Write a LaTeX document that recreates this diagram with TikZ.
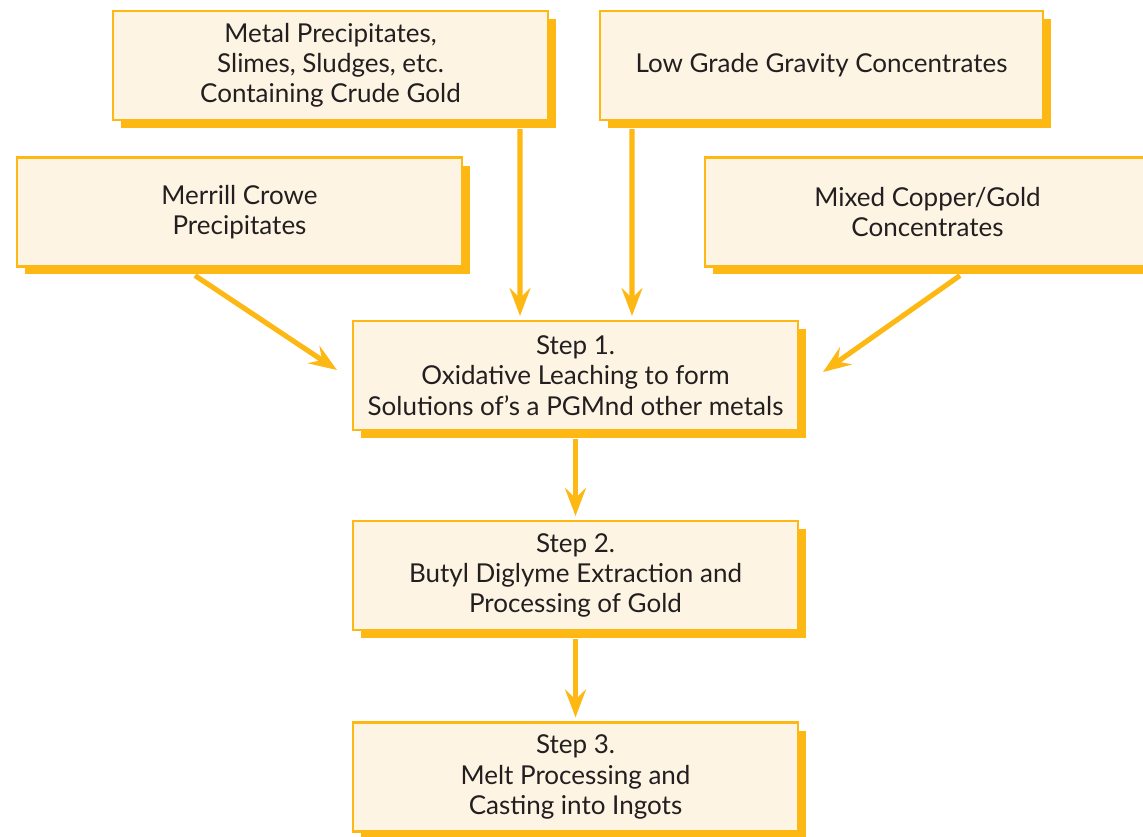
\documentclass[tikz,border=0pt]{standalone}
\usepackage{fontspec}
\setmainfont{Lato}
\usetikzlibrary{arrows.meta,shadows}

\definecolor{goldline}{HTML}{FDB813}
\definecolor{creamfill}{HTML}{FDF4E3}
\definecolor{inktext}{HTML}{231F20}

\tikzset{
	procbox/.style={draw=goldline, line width=1.2pt, fill=creamfill, text=inktext,
		align=center, minimum width=8.9cm, minimum height=2.18cm, inner sep=2pt,
		font=\fontsize{14.8}{17.2}\selectfont,
		drop shadow={shadow xshift=0.16cm, shadow yshift=-0.16cm, fill=goldline, opacity=1}},
	flow/.style={draw=goldline, line width=2.9pt,
		-{Stealth[length=0.56cm, width=0.42cm, inset=0.2cm]}}
}

\begin{document}
\begin{tikzpicture}[x=0.02cm, y=-0.02cm]
	\useasboundingbox (0,0) rectangle (1143,836);

	% Source materials
	\node[procbox, minimum width=8.7cm] (metal) at (330.5,65.5) {Metal Precipitates,\\Slimes, Sludges, etc.\\Containing Crude Gold};
	\node[procbox, minimum width=8.86cm] (gravity) at (821.5,65.5) {Low Grade Gravity Concentrates};
	\node[procbox] (merrill) at (239.5,212) {Merrill Crowe\\Precipitates};
	\node[procbox] (mixed) at (927.5,212) {Mixed Copper/Gold\\Concentrates};

	% Process steps
	\node[procbox] (step1) at (575.5,375.5) {Step 1.\\Oxidative Leaching to form\\Solutions of's a PGMnd other metals};
	\node[procbox] (step2) at (575.5,575.5) {Step 2.\\Butyl Diglyme Extraction and\\Processing of Gold};
	\node[procbox] (step3) at (575.5,777) {Step 3.\\Melt Processing and\\Casting into Ingots};

	% Feeds into step 1
	\draw[flow] ([xshift=3.79cm,yshift=-0.16cm]metal.south) -- ([xshift=-1.11cm,yshift=0.08cm]step1.north);
	\draw[flow] ([xshift=-3.79cm,yshift=-0.16cm]gravity.south) -- ([xshift=1.13cm,yshift=0.08cm]step1.north);
	\draw[flow] ([xshift=-0.89cm,yshift=-0.16cm]merrill.south) -- ([xshift=-0.3cm,yshift=0.11cm]step1.west);
	\draw[flow] ([xshift=0.65cm,yshift=-0.16cm]mixed.south) -- ([xshift=0.48cm,yshift=0.07cm]step1.east);

	% Step to step
	\draw[flow] ([yshift=-0.16cm]step1.south) -- ([yshift=0.08cm]step2.north);
	\draw[flow] ([yshift=-0.16cm]step2.south) -- ([yshift=0.08cm]step3.north);
\end{tikzpicture}
\end{document}
